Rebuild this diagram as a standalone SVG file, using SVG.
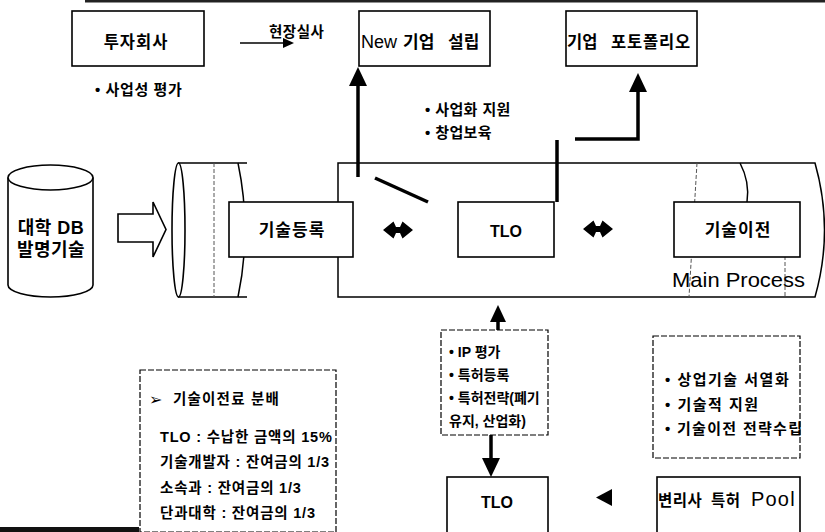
<svg xmlns="http://www.w3.org/2000/svg" width="825" height="532" viewBox="0 0 825 532">
<style>
.t{font-family:'Liberation Sans','Noto Sans CJK KR',sans-serif;fill:#000;}
.b{font-weight:bold;}
.box{fill:#fff;stroke:#000;stroke-width:1.6;}
.dbox{fill:#fff;stroke:#000;stroke-width:1.2;stroke-dasharray:6 2;}
.ln{fill:none;stroke:#000;stroke-width:1.5;}
.dash{fill:none;stroke:#555;stroke-width:1;stroke-dasharray:4 2;}
.thick{fill:none;stroke:#000;stroke-width:3.5;}
.head{fill:#000;stroke:none;}
</style>
<rect x="0" y="0" width="825" height="532" fill="#fff"/>
<rect x="85" y="0" width="740" height="2.5" fill="#222"/>
<rect x="0" y="527" width="139" height="5" fill="#111"/>

<g id="db">
<path class="box" d="M8,177.5 V285 A42.5,12 0 0 0 93,285 V177.5"/>
<ellipse class="box" cx="50.5" cy="177.5" rx="42.5" ry="12.5"/>
<text class="t b" x="51" y="234" font-size="18" text-anchor="middle" letter-spacing="0.5">대학 DB</text>
<text class="t b" x="51" y="256" font-size="18" text-anchor="middle" letter-spacing="0.5">발명기술</text>
</g>

<g id="pipe">
<path class="ln" d="M178,163 H247 M178,297 H247"/>
<line class="dash" x1="214" y1="163" x2="214" y2="297"/>
<path class="ln" d="M238,163 Q252,230 238,297"/>
<ellipse class="box" cx="178.5" cy="230" rx="6.5" ry="67"/>
<path class="ln" d="M338,163 H815 Q834,230 815,297 H338 Z" fill="#fff"/>
<line class="dash" x1="697" y1="163" x2="689" y2="297"/>
<line class="dash" x1="785" y1="250" x2="785" y2="297"/>
<path class="ln" d="M740,163 Q750,182 747,202"/>
</g>

<g id="connectors">
<polygon class="box" points="118,214 153,214 153,202 166,229.5 153,257 153,242 118,242"/>
<line x1="240" y1="43" x2="284" y2="43" stroke="#000" stroke-width="1.5"/>
<polygon class="head" points="294,43 283,38 283,48"/>
<line class="thick" x1="358" y1="177" x2="358" y2="84"/>
<polygon class="head" points="358,67 349,86 367,86"/>
<line class="thick" x1="375" y1="178" x2="428" y2="202"/>
<path class="thick" d="M557,202 V140 M575,139 H638 V90"/>
<polygon class="head" points="638,73 629,92 647,92"/>
<polygon class="head" points="383,230 393.5,221.5 396,227 400,227 402.5,221.5 413,230 402.5,238.5 400,233 396,233 393.5,238.5"/>
<polygon class="head" points="583,229 593.5,220.5 596,226 600,226 602.5,220.5 613,229 602.5,237.5 600,232 596,232 593.5,237.5"/>
<line class="thick" x1="498" y1="330" x2="498" y2="320"/>
<polygon class="head" points="498,305 490,322 506,322"/>
<line class="thick" x1="491" y1="435" x2="491" y2="460"/>
<polygon class="head" points="491,477 482,458 500,458"/>
<polygon class="head" points="596,497.5 612,489 612,506"/>
</g>

<g id="n-invest">
<rect class="box" x="72" y="11" width="132" height="55"/>
<text class="t b" x="136" y="48" font-size="16.5" text-anchor="middle" letter-spacing="1">투자회사</text>
</g>
<text class="t b" x="95" y="95" font-size="15" letter-spacing="0.6">• 사업성 평가</text>
<text class="t b" x="269" y="37" font-size="14.5" letter-spacing="0.5">현장실사</text>

<g id="n-newco">
<rect class="box" x="359" y="11" width="131" height="55"/>
<text class="t" x="361" y="48" font-size="18">New<tspan class="b" x="403" font-size="17">기업</tspan><tspan class="b" x="448" font-size="17">설립</tspan></text>
</g>
<g id="n-portfolio">
<rect class="box" x="566" y="11" width="131" height="55"/>
<text class="t b" x="567" y="48" font-size="16.5">기업<tspan x="611" letter-spacing="0.8">포토폴리오</tspan></text>
</g>
<text class="t b" x="425" y="115" font-size="15" letter-spacing="0.4">• 사업화 지원</text>
<text class="t b" x="425" y="138" font-size="15" letter-spacing="0.4">• 창업보육</text>

<g id="n-reg">
<rect class="box" x="229" y="202" width="124" height="55"/>
<text class="t b" x="292" y="236" font-size="17" text-anchor="middle" letter-spacing="1">기술등록</text>
</g>
<g id="n-tlo">
<rect class="box" x="458" y="202" width="96" height="55"/>
<text class="t b" x="506" y="237" font-size="16" text-anchor="middle">TLO</text>
</g>
<g id="n-transfer">
<rect class="box" x="674" y="202" width="126" height="55"/>
<text class="t b" x="738" y="236" font-size="17" text-anchor="middle" letter-spacing="1">기술이전</text>
</g>
<text class="t" x="672" y="287" font-size="21" textLength="133" lengthAdjust="spacingAndGlyphs">Main Process</text>

<g id="n-ip">
<rect class="dbox" x="441" y="330" width="107" height="105"/>
<text class="t b" x="449" y="357" font-size="14">• IP 평가</text>
<text class="t b" x="449" y="380" font-size="14">• 특허등록</text>
<text class="t b" x="449" y="403" font-size="14">• 특허전략(폐기</text>
<text class="t b" x="449" y="426" font-size="14">유지, 산업화)</text>
</g>

<g id="n-support">
<rect class="dbox" x="653" y="336" width="147" height="122"/>
<text class="t b" x="665" y="385" font-size="15" letter-spacing="1.5">• 상업기술 서열화</text>
<text class="t b" x="665" y="410" font-size="15" letter-spacing="1.5">• 기술적 지원</text>
<text class="t b" x="665" y="434" font-size="15" letter-spacing="1.3">• 기술이전 전략수립</text>
</g>

<g id="n-fee">
<rect class="dbox" x="140" y="370" width="196" height="162"/>
<text x="149" y="405" font-size="16" font-weight="bold" font-family="'DejaVu Sans',sans-serif">➢</text>
<text class="t b" x="173" y="404" font-size="14.5" letter-spacing="1.2">기술이전료 분배</text>
<text class="t b" x="160" y="442" font-size="14.5" letter-spacing="0.8">TLO : 수납한 금액의 15%</text>
<text class="t b" x="160" y="467" font-size="14.5" letter-spacing="0.8">기술개발자 : 잔여금의 1/3</text>
<text class="t b" x="160" y="493" font-size="14.5" letter-spacing="0.8">소속과 : 잔여금의 1/3</text>
<text class="t b" x="160" y="518" font-size="14.5" letter-spacing="0.8">단과대학 : 잔여금의 1/3</text>
</g>

<g id="n-tlo2">
<rect class="box" x="447" y="477" width="101" height="60"/>
<text class="t b" x="497" y="508" font-size="16" text-anchor="middle">TLO</text>
</g>
<g id="n-pool">
<rect class="box" x="657" y="477" width="143" height="60"/>
<text class="t b" x="658" y="506" font-size="15.5" letter-spacing="0.5">변리사<tspan x="711">특허</tspan><tspan x="751" font-size="20" font-weight="normal" letter-spacing="1.2">Pool</tspan></text>
</g>
</svg>
